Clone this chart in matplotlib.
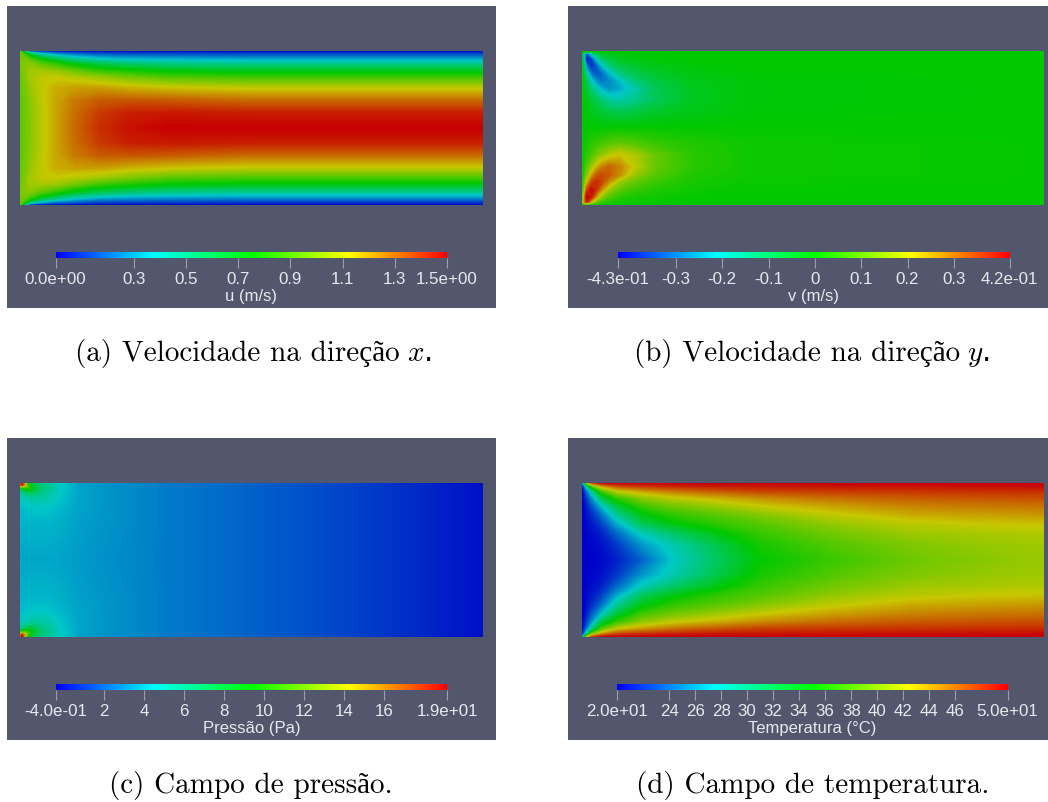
import matplotlib
matplotlib.use('Agg')
import matplotlib.pyplot as plt
import numpy as np
from matplotlib.cm import ScalarMappable
from matplotlib.colors import LinearSegmentedColormap, Normalize

W, H = 1048, 803
plt.rcParams['mathtext.fontset'] = 'cm'

# stations are in pixels from the inlet / from the top wall of the 463x154 channel
u_x = [0, 4, 10, 20, 35, 55, 80, 110, 150, 230, 463]
u_y = [0, 2, 5, 9, 13, 20, 27, 37, 50, 62, 77]
# one line per x station, top wall to centre line
u_field = [
    [.95, .95, .96, .97, .96, .95, .94, .93, .92, .92, .92],
    [.50, .78, .92, .98, 1.0, .98, .97, .96, .95, .94, .94],
    [0, .45, .75, .92, 1.0, 1.05, 1.05, 1.02, 1.0, .99, .99],
    [0, .28, .55, .78, .92, 1.05, 1.1, 1.1, 1.09, 1.08, 1.08],
    [0, .17, .40, .65, .83, 1.02, 1.12, 1.17, 1.18, 1.18, 1.18],
    [0, .13, .30, .50, .70, .93, 1.08, 1.2, 1.27, 1.29, 1.3],
    [0, .10, .23, .42, .60, .83, 1.03, 1.2, 1.33, 1.39, 1.41],
    [0, .09, .21, .37, .54, .77, .97, 1.16, 1.34, 1.44, 1.47],
    [0, .09, .20, .35, .50, .72, .90, 1.13, 1.33, 1.45, 1.5],
    [0, .08, .19, .33, .48, .69, .87, 1.10, 1.3, 1.44, 1.5],
    [0, .08, .19, .33, .48, .69, .87, 1.10, 1.3, 1.44, 1.5],
]

v_x = [0, 2, 5, 10, 15, 20, 28, 38, 52, 75, 110, 170, 463]
v_y = [0, 3, 8, 15, 23, 30, 38, 50, 62, 77, 92, 104, 116, 124, 131, 139, 146, 151, 154]
# one line per y station, top wall to bottom wall
v_field = [
    [0, 0, 0, 0, 0, 0, 0, 0, 0, 0, 0, 0, 0],
    [0, -.2, -.35, -.2, -.1, -.05, -.03, -.015, -.01, -.005, 0, 0, 0],
    [0, -.15, -.42, -.36, -.22, -.13, -.07, -.04, -.02, -.01, 0, 0, 0],
    [0, -.08, -.3, -.38, -.33, -.24, -.14, -.08, -.05, -.03, -.01, 0, 0],
    [0, -.05, -.17, -.3, -.34, -.32, -.24, -.15, -.09, -.05, -.02, -.005, 0],
    [0, -.03, -.11, -.21, -.28, -.3, -.28, -.23, -.14, -.07, -.03, -.01, 0],
    [0, -.02, -.07, -.13, -.19, -.24, -.27, -.25, -.19, -.09, -.035, -.01, 0],
    [0, -.01, -.03, -.06, -.09, -.12, -.16, -.18, -.15, -.09, -.035, -.01, 0],
    [0, -.005, -.015, -.03, -.04, -.05, -.07, -.08, -.07, -.045, -.025, -.008, 0],
    [0, 0, 0, 0, 0, 0, 0, 0, 0, 0, 0, 0, 0],
    [0, .01, .02, .035, .05, .06, .08, .09, .08, .05, .03, .01, 0],
    [0, .015, .04, .07, .11, .14, .18, .21, .18, .1, .04, .01, 0],
    [0, .025, .08, .15, .22, .28, .31, .28, .2, .1, .04, .01, 0],
    [0, .035, .12, .24, .32, .34, .32, .27, .16, .08, .03, .01, 0],
    [0, .055, .19, .33, .37, .35, .26, .16, .1, .055, .02, .005, 0],
    [0, .09, .33, .41, .36, .26, .15, .09, .055, .03, .01, 0, 0],
    [0, .17, .42, .39, .24, .14, .08, .04, .02, .01, 0, 0, 0],
    [0, .22, .38, .22, .11, .055, .03, .015, .01, .005, 0, 0, 0],
    [0, 0, 0, 0, 0, 0, 0, 0, 0, 0, 0, 0, 0],
]

p_x = [0, 2, 5, 8, 12, 16, 22, 30, 40, 60, 100, 150, 230, 360, 463]
p_y = [0, 2, 4, 7, 10, 15, 25, 40, 77]
p_field = [
    [15, 19, 13, 9, 7.5, 6.5, 6, 5.5, 4.6, 3.5, 3.1, 2.6, 2.0, 1.0, -.1],
    [16, 18, 15, 10.5, 8, 7, 6.2, 5.6, 4.7, 3.5, 3.1, 2.6, 2.0, 1.0, -.1],
    [10, 13, 12, 11, 8.5, 7.5, 6.5, 5.8, 4.6, 3.6, 3.1, 2.6, 2.0, 1.0, 0],
    [6, 7, 8, 9, 8.5, 7.5, 6.3, 5.6, 4.6, 3.6, 3.1, 2.6, 2.0, 1.0, 0],
    [5, 5.5, 6, 7, 7, 6.5, 6, 5.4, 4.5, 3.6, 3.1, 2.6, 2.0, 1.0, 0],
    [4.6, 4.7, 4.8, 5.2, 5.4, 5.5, 5.4, 5.1, 4.4, 3.6, 3.1, 2.6, 2.0, 1.0, 0],
    [4.3, 4.3, 4.3, 4.4, 4.4, 4.5, 4.5, 4.4, 4.1, 3.6, 3.1, 2.6, 2.0, 1.0, 0],
    [4.0, 4.0, 4.0, 4.0, 4.0, 4.0, 4.0, 4.0, 3.9, 3.5, 3.1, 2.6, 2.0, 1.0, 0],
    [3.7, 3.7, 3.7, 3.7, 3.7, 3.7, 3.7, 3.7, 3.6, 3.4, 3.0, 2.6, 2.0, 1.0, 0],
]

t_x = [0, 2, 5, 10, 20, 35, 60, 90, 130, 180, 250, 330, 400, 463]
t_y = [0, 3, 8, 15, 23, 32, 40, 50, 62, 77]
# one line per x station
t_field = [
    [24, 20, 20, 20, 20, 20, 20, 20, 20, 20],
    [28, 23, 21, 20.5, 20, 20, 20, 20, 20, 20],
    [40, 29, 24, 22, 21, 20.5, 20.3, 20.2, 20.1, 20],
    [47, 38, 29, 25, 23, 21.5, 21, 20.5, 20.2, 20.1],
    [49.5, 44, 37.5, 32, 27, 24, 22.5, 21.2, 20.6, 20.3],
    [50, 47, 42, 36.5, 32.5, 29, 26.5, 23.8, 22, 21.2],
    [50, 48, 44, 40, 37, 34, 32, 28, 25.5, 23.5],
    [50, 48.5, 45.5, 41.8, 39, 36.5, 34.5, 31, 28.3, 27.3],
    [50, 49, 46.5, 43.2, 40.5, 38, 36.6, 34, 31.7, 31],
    [50, 49, 47.5, 44.6, 42.3, 39.8, 38.3, 37, 35.8, 35],
    [50, 49.2, 47.8, 45.8, 43.8, 42, 40.6, 39.2, 38, 37],
    [50, 49.3, 48, 46.5, 45, 43.5, 42, 40.8, 39.7, 39],
    [50, 49.4, 48.2, 46.8, 45.4, 43.9, 42.6, 41.3, 40.5, 40],
    [50, 49.5, 48.3, 47, 45.6, 44.2, 42.9, 41.6, 40.9, 40.7],
]

u_ticks = [0, .3, .5, .7, .9, 1.1, 1.3, 1.5]
u_labels = ['0.0e+00', '0.3', '0.5', '0.7', '0.9', '1.1', '1.3', '1.5e+00']
v_ticks = [-.425, -.3, -.2, -.1, 0, .1, .2, .3, .42]
v_labels = ['-4.3e-01', '-0.3', '-0.2', '-0.1', '0', '0.1', '0.2', '0.3', '4.2e-01']
p_ticks = [-.4, 2, 4, 6, 8, 10, 12, 14, 16, 19.15]
p_labels = ['-4.0e-01', '2', '4', '6', '8', '10', '12', '14', '16', '1.9e+01']
t_ticks = [20, 24, 26, 28, 30, 32, 34, 36, 38, 40, 42, 44, 46, 50]
t_labels = ['2.0e+01', '24', '26', '28', '30', '32', '34', '36', '38', '40', '42', '44', '46', '5.0e+01']

BG = '#53576e'
rainbow = ['#0000ff', '#00ffff', '#00ff00', '#ffff00', '#ff0000']
bright = LinearSegmentedColormap.from_list('bright', rainbow)
dark = LinearSegmentedColormap.from_list('dark', ['#0000c8', '#00c8c8', '#00c800', '#c8c800', '#c80000'])


def px_axes(fig, x0, y0, x1, y1):
    # box is given in image pixels, y going down
    y0, y1 = y0 + 0.8, y1 + 0.8
    return fig.add_axes([x0 / W, 1 - y1 / H, (x1 - x0) / W, (y1 - y0) / H])


def mirror(half):
    # channel is symmetric about the centre line
    return np.vstack([half, half[-2::-1]])


def panel(fig, box, field_box, x, y, z, bar_box, ticks, labels, title):
    bg = px_axes(fig, *box)
    bg.set_facecolor(BG)
    bg.set_xticks([])
    bg.set_yticks([])
    for s in bg.spines.values():
        s.set_visible(False)

    vmin, vmax = ticks[0], ticks[-1]
    ax = px_axes(fig, *field_box)
    levels = np.linspace(vmin, vmax, 257)
    ax.contourf(x, y, z, levels=levels, cmap=dark, extend='both', antialiased=False)
    ax.set_xlim(0, 463)
    ax.set_ylim(154, 0)
    ax.axis('off')

    cax = px_axes(fig, *bar_box)
    sm = ScalarMappable(Normalize(vmin, vmax), bright)
    cb = fig.colorbar(sm, cax=cax, orientation='horizontal')
    cb.outline.set_visible(False)
    cb.set_ticks(ticks, labels=labels)
    cb.minorticks_off()
    cax.tick_params(axis='x', length=7.2, width=0.8, color='#9c9eac', pad=2,
                    labelsize=12.2, labelcolor='#e8e8ec')
    cb.set_label(title, color='#e8e8ec', fontsize=12, labelpad=1.5)
    for lab in cax.get_xticklabels() + [cax.xaxis.label]:
        lab.set_family('Liberation Sans')


def caption(fig, x, y, text, math=None):
    size = 21
    t = fig.text(x / W, 1 - y / H, text, family=['cmr10', 'Liberation Serif'], size=size,
                 va='baseline', ha='left', color='black')
    if math:
        r = fig.canvas.get_renderer()
        x1 = t.get_window_extent(r).x1
        fig.text((x1 + 7) / W, 1 - y / H, math, size=size, va='baseline', ha='left', color='black')


fig = plt.figure(figsize=(W / 100, H / 100), dpi=100, facecolor='white')

panel(fig, (7, 6, 496, 308), (20, 51, 483, 205),
      u_x, u_y + [154 - a for a in u_y[-2::-1]], mirror(np.array(u_field).T),
      (55.5, 252, 447, 258), u_ticks, u_labels, 'u (m/s)')

panel(fig, (568, 6, 1048, 308), (581.5, 51, 1044, 205),
      v_x, v_y, np.array(v_field),
      (618, 252, 1009.5, 258), v_ticks, v_labels, 'v (m/s)')

panel(fig, (7, 438, 496, 740), (20, 483, 483, 637),
      p_x, p_y + [154 - a for a in p_y[-2::-1]], mirror(np.array(p_field)),
      (56, 684, 447, 690), p_ticks, p_labels, 'Pressão (Pa)')

panel(fig, (568, 438, 1048, 740), (581.5, 483, 1044, 637),
      t_x, t_y + [154 - a for a in t_y[-2::-1]], mirror(np.array(t_field).T),
      (617, 684, 1007.5, 690), t_ticks, t_labels, 'Temperatura (°C)')

caption(fig, 75, 361, '(a) Velocidade na direção', '$x$.')
caption(fig, 634, 361, '(b) Velocidade na direção', '$y$.')
caption(fig, 109, 793, '(c) Campo de pressão.')
caption(fig, 636, 793, '(d) Campo de temperatura.')

fig.savefig('out.png', dpi=100)
